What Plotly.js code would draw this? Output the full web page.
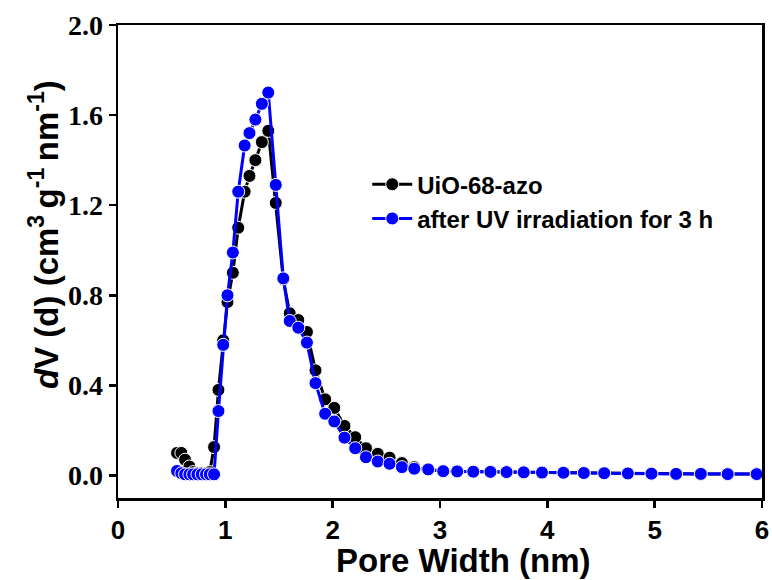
<!DOCTYPE html>
<html>
<head>
<meta charset="utf-8">
<script src="https://cdn.plot.ly/plotly-3.0.1.min.js"></script>
<style>html,body{margin:0;padding:0;background:#fff;}#chart{width:772px;height:580px;}</style>
</head>
<body>
<div id="chart"></div>
<script>
const poreWidth = [0.55,0.59,0.625,0.665,0.70,0.74,0.78,0.82,0.855,0.895,0.936,0.98,1.02,1.07,1.12,1.18,1.225,1.28,1.34,1.40,1.47,1.54,1.60,1.68,1.76,1.84,1.93,2.015,2.11,2.21,2.31,2.42,2.53,2.645,2.76,2.89,3.03,3.16,3.31,3.47,3.62,3.78,3.95,4.15,4.34,4.53,4.75,4.97,5.20,5.43,5.68,5.95];
const dvAzo = [0.10,0.10,0.07,0.04,0.015,0.01,0.01,0.01,0.015,0.126,0.38,0.60,0.77,0.90,1.10,1.26,1.33,1.40,1.48,1.53,1.21,0.87,0.72,0.69,0.637,0.467,0.338,0.30,0.22,0.17,0.121,0.096,0.079,0.055,0.037,0.027,0.02,0.018,0.016,0.016,0.015,0.014,0.013,0.012,0.011,0.01,0.009,0.008,0.007,0.007,0.006,0.006];
const dvUV = [0.02,0.01,0.005,0.005,0.005,0.005,0.005,0.005,0.005,0.005,0.286,0.58,0.80,0.99,1.26,1.465,1.52,1.58,1.65,1.70,1.29,0.875,0.686,0.656,0.59,0.41,0.274,0.24,0.168,0.121,0.081,0.062,0.052,0.037,0.03,0.027,0.019,0.018,0.017,0.016,0.015,0.014,0.013,0.012,0.011,0.01,0.009,0.008,0.007,0.007,0.006,0.006];
const seriesNames = ['UiO-68-azo', 'after UV irradiation for 3 h'];
const xTicks = [0,1,2,3,4,5,6];
const yTicks = [0.0,0.4,0.8,1.2,1.6,2.0];
const xTitle = 'Pore Width (nm)';
const yTitle = '<i>d</i>V (d) (cm<sup>3 </sup>g<sup>-1 </sup>nm<sup>-1</sup>)';

const traces = [
  {x: poreWidth, y: dvAzo, name: seriesNames[0], type: 'scatter', mode: 'lines+markers',
   line: {color: '#000000', width: 3},
   marker: {color: '#000000', size: 13, line: {color: '#ffffff', width: 1}}},
  {x: poreWidth, y: dvUV, name: seriesNames[1], type: 'scatter', mode: 'lines+markers',
   line: {color: '#0000ff', width: 3},
   marker: {color: '#0000ff', size: 13, line: {color: '#ffffff', width: 1}}}
];

const sans = 'Liberation Sans, Arial, sans-serif';
const layout = {
  width: 772, height: 580,
  margin: {l: 118, r: 10, t: 25, b: 82},
  paper_bgcolor: '#fff', plot_bgcolor: '#fff',
  showlegend: true,
  legend: {x: 0.387, y: 0.71, xanchor: 'left', yanchor: 'top', bgcolor: 'rgba(0,0,0,0)',
    font: {family: sans, size: 24, color: '#000', weight: 'bold'},
    itemwidth: 40, tracegroupgap: 0},
  xaxis: {
    range: [0, 6], tickvals: xTicks, ticktext: xTicks.map(String),
    showgrid: false, zeroline: false, showline: true, linecolor: '#000', linewidth: 2.5, mirror: true,
    ticks: 'outside', ticklen: 7, tickwidth: 2.5, tickcolor: '#000',
    tickfont: {family: sans, size: 26, color: '#000', weight: 'bold'}
  },
  yaxis: {
    range: [-0.1, 2.0], tickvals: yTicks, ticktext: yTicks.map(v => v.toFixed(1)),
    showgrid: false, zeroline: false, showline: true, linecolor: '#000', linewidth: 2.5, mirror: true,
    ticks: 'outside', ticklen: 7, tickwidth: 2.5, tickcolor: '#000',
    tickfont: {family: 'Liberation Serif, Times New Roman, serif', size: 28, color: '#000', weight: 'bold'}
  },
  annotations: [
    {text: xTitle, xref: 'paper', yref: 'paper', x: 0.537, y: (580 - 82 - 560) / 473,
     xanchor: 'center', yanchor: 'middle', showarrow: false,
     font: {family: sans, size: 33, color: '#000', weight: 'bold'}},
    {text: yTitle, xref: 'paper', yref: 'paper', x: (44 - 118) / 644, y: (498 - 235) / 473,
     xanchor: 'center', yanchor: 'middle', showarrow: false, textangle: -90,
     font: {family: sans, size: 33, color: '#000', weight: 'bold'}}
  ]
};

Plotly.newPlot('chart', traces, layout, {displayModeBar: false, staticPlot: true});
</script>
</body>
</html>
